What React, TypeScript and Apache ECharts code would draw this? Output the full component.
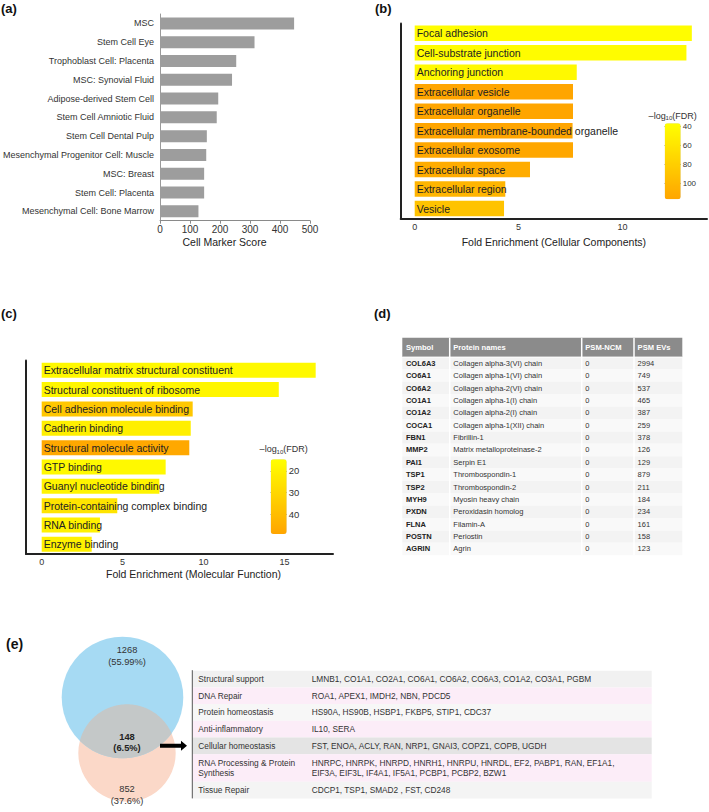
import React, { useEffect, useRef } from 'react';
import * as echarts from 'echarts';

const FONT = '"Liberation Sans", Arial, Helvetica, sans-serif';

// ---------- (a) Cell marker scores ----------
const aCats = [
  'MSC',
  'Stem Cell Eye',
  'Trophoblast Cell: Placenta',
  'MSC: Synovial Fluid',
  'Adipose-derived Stem Cell',
  'Stem Cell Amniotic Fluid',
  'Stem Cell Dental Pulp',
  'Mesenchymal Progenitor Cell: Muscle',
  'MSC: Breast',
  'Stem Cell: Placenta',
  'Mesenchymal Cell: Bone Marrow',
];
const aScores = [447, 315, 254, 240, 194, 189, 156, 154, 147, 147, 128];

// ---------- (b) Cellular components ----------
const bCats = [
  'Focal adhesion',
  'Cell-substrate junction',
  'Anchoring junction',
  'Extracellular vesicle',
  'Extracellular organelle',
  'Extracellular membrane-bounded organelle',
  'Extracellular exosome',
  'Extracellular space',
  'Extracellular region',
  'Vesicle',
];
const bFold = [13.34, 13.08, 7.8, 7.62, 7.62, 7.6, 7.62, 5.55, 4.36, 4.3];
const bLogFdr = [38, 39, 42, 116, 116, 116, 115, 110, 102, 90];
const bTicks = [0, 5, 10];
const bLegendTicks = [40, 60, 80, 100];

// ---------- (c) Molecular function ----------
const cCats = [
  'Extracellular matrix structural constituent',
  'Structural constituent of ribosome',
  'Cell adhesion molecule binding',
  'Cadherin binding',
  'Structural molecule activity',
  'GTP binding',
  'Guanyl nucleotide binding',
  'Protein-containing complex binding',
  'RNA binding',
  'Enzyme binding',
];
const cFold = [16.93, 14.65, 9.33, 9.21, 9.12, 7.66, 7.27, 4.67, 3.6, 3.09];
const cLogFdr = [17, 18, 36, 21, 48, 17, 19, 25, 20, 20];
const cTicks = [0, 5, 10, 15];
const cLegendTicks = [20, 30, 40];

// ---------- (d) table ----------
const dHeaders = ['Symbol', 'Protein names', 'PSM-NCM', 'PSM EVs'];
const dSymbols = ['COL6A3', 'CO6A1', 'CO6A2', 'CO1A1', 'CO1A2', 'COCA1', 'FBN1', 'MMP2', 'PAI1', 'TSP1', 'TSP2', 'MYH9', 'PXDN', 'FLNA', 'POSTN', 'AGRIN'];
const dNames = [
  'Collagen alpha-3(VI) chain',
  'Collagen alpha-1(VI) chain',
  'Collagen alpha-2(VI) chain',
  'Collagen alpha-1(I) chain',
  'Collagen alpha-2(I) chain',
  'Collagen alpha-1(XII) chain',
  'Fibrillin-1',
  'Matrix metalloproteinase-2',
  'Serpin E1',
  'Thrombospondin-1',
  'Thrombospondin-2',
  'Myosin heavy chain',
  'Peroxidasin homolog',
  'Filamin-A',
  'Periostin',
  'Agrin',
];
const dNcm = [0, 0, 0, 0, 0, 0, 0, 0, 0, 0, 0, 0, 0, 0, 0, 0];
const dEvs = [2994, 749, 537, 465, 387, 259, 378, 126, 129, 879, 211, 184, 234, 161, 158, 123];

// ---------- (e) venn + table ----------
const vennCounts = [1268, 148, 852];
const vennPcts = ['55.99%', '6.5%', '37.6%'];
const eCats = [
  'Structural support',
  'DNA Repair',
  'Protein homeostasis',
  'Anti-inflammatory',
  'Cellular homeostasis',
  'RNA Processing & Protein\nSynthesis',
  'Tissue Repair',
];
const eGenes = [
  'LMNB1, CO1A1, CO2A1, CO6A1, CO6A2, CO6A3, CO1A2, CO3A1, PGBM',
  'ROA1, APEX1, IMDH2, NBN, PDCD5',
  'HS90A, HS90B, HSBP1, FKBP5, STIP1, CDC37',
  'IL10, SERA',
  'FST, ENOA, ACLY, RAN, NRP1, GNAI3, COPZ1, COPB, UGDH',
  'HNRPC, HNRPK, HNRPD, HNRH1, HNRPU, HNRDL, EF2, PABP1, RAN, EF1A1,\nEIF3A, EIF3L, IF4A1, IF5A1, PCBP1, PCBP2, BZW1',
  'CDCP1, TSP1, SMAD2 , FST, CD248',
];
const eRowColors = ['#f1f1f1', '#fcedf8', '#f7f7f7', '#fcedf8', '#e4e4e4', '#fcedf8', '#f4f4f4'];

// ---------- layout ----------
const GA = { left: 158.7, top: 14, width: 151.3, height: 206.7 };
const GB = { left: 400.7, top: 23.5, width: 306.3, height: 194.8 };
const GC = { left: 26, top: 360.6, width: 307, height: 193.4 };
const CBB = { left: 664.7, top: 123.3, width: 16, height: 76, min: 36.4, max: 116.4 };
const CBC = { left: 270.7, top: 459.3, width: 16, height: 74.7, min: 14.7, max: 49.2 };
const YELLOW_ORANGE = ['#FFFF00', '#FFA500'];

function txt(x: number, y: number, text: string, o: any = {}) {
  const style: any = {
    text,
    fill: o.fill || '#333333',
    fontSize: o.fontSize || 9,
    fontWeight: o.fontWeight || 'normal',
    fontFamily: FONT,
    align: o.align || 'left',
    verticalAlign: 'middle',
  };
  if (o.lineHeight) style.lineHeight = o.lineHeight;
  if (o.rich) style.rich = o.rich;
  return { type: 'text', x, y, silent: true, style };
}

function buildGraphics() {
  const g: any[] = [];
  // panel labels
  g.push(txt(1, 8, '(a)', { fontSize: 13, fontWeight: 'bold', fill: '#111' }));
  g.push(txt(375, 8, '(b)', { fontSize: 13, fontWeight: 'bold', fill: '#111' }));
  g.push(txt(1, 313.5, '(c)', { fontSize: 13, fontWeight: 'bold', fill: '#111' }));
  g.push(txt(374, 313.5, '(d)', { fontSize: 13, fontWeight: 'bold', fill: '#111' }));
  g.push(txt(6, 644, '(e)', { fontSize: 14, fontWeight: 'bold', fill: '#111' }));

  // colorbar titles
  const rich = { s: { fontSize: 6, fontFamily: FONT, fill: '#333', padding: [5, 0, 0, 0] }, n: { fontSize: 9, fontFamily: FONT, fill: '#333' } };
  g.push(txt(CBB.left + CBB.width / 2, CBB.top - 7.5, '{n|–log}{s|10}{n|(FDR)}', { align: 'center', rich }));
  g.push(txt(CBC.left + CBC.width / 2 + 5, CBC.top - 10, '{n|–log}{s|10}{n|(FDR)}', { align: 'center', rich }));

  // ---- table (d)
  const tL = 402.3, tR = 682.3, hTop = 337.7, hBot = 357.1, rowH = 12.38;
  const colX = [402.3, 449.7, 581.7, 634];
  const pad = 3.6;
  const tBot = hBot + rowH * dSymbols.length;
  g.push({ type: 'rect', silent: true, shape: { x: tL, y: hTop, width: tR - tL, height: hBot - hTop }, style: { fill: '#8b8b8b' } });
  dHeaders.forEach((h, i) => g.push(txt(colX[i] + pad, (hTop + hBot) / 2, h, { fill: '#ffffff', fontWeight: 'bold', fontSize: 7.6 })));
  dSymbols.forEach((s, r) => {
    const y0 = hBot + r * rowH;
    g.push({ type: 'rect', silent: true, shape: { x: tL, y: y0, width: tR - tL, height: rowH }, style: { fill: r % 2 === 0 ? '#f3f3f3' : '#f9f9f9' } });
    const cy = y0 + rowH / 2;
    g.push(txt(colX[0] + pad, cy, s, { fontWeight: 'bold', fontSize: 7.5, fill: '#222222' }));
    g.push(txt(colX[1] + pad, cy, dNames[r], { fontSize: 7.5, fill: '#333333' }));
    g.push(txt(colX[2] + pad, cy, String(dNcm[r]), { fontSize: 7.5, fill: '#333333' }));
    g.push(txt(colX[3] + pad, cy, String(dEvs[r]), { fontSize: 7.5, fill: '#333333' }));
  });
  colX.slice(1).forEach((x) =>
    g.push({ type: 'line', silent: true, shape: { x1: x, y1: hTop, x2: x, y2: tBot }, style: { stroke: '#ffffff', lineWidth: 1.5 } })
  );
  g.push({ type: 'line', silent: true, shape: { x1: tL, y1: hBot, x2: tR, y2: hBot }, style: { stroke: '#ffffff', lineWidth: 1 } });

  // ---- venn (e)
  const A = { x: 122.5, y: 697.5, r: 60.8 };
  const B = { x: 127, y: 753, r: 48.7 };
  g.push({ type: 'circle', silent: true, shape: { cx: B.x, cy: B.y, r: B.r }, style: { fill: '#fbd8c8' } });
  g.push({ type: 'circle', silent: true, shape: { cx: A.x, cy: A.y, r: A.r }, style: { fill: '#a6daf3' } });
  const pts: number[][] = [];
  const N = 720;
  for (let i = 0; i < N; i++) {
    const t = (i / N) * Math.PI * 2;
    const ax = A.x + A.r * Math.cos(t), ay = A.y + A.r * Math.sin(t);
    if ((ax - B.x) ** 2 + (ay - B.y) ** 2 <= B.r * B.r) pts.push([ax, ay]);
    const bx = B.x + B.r * Math.cos(t), by = B.y + B.r * Math.sin(t);
    if ((bx - A.x) ** 2 + (by - A.y) ** 2 <= A.r * A.r) pts.push([bx, by]);
  }
  const mx = pts.reduce((s, p) => s + p[0], 0) / pts.length;
  const my = pts.reduce((s, p) => s + p[1], 0) / pts.length;
  pts.sort((p, q) => Math.atan2(p[1] - my, p[0] - mx) - Math.atan2(q[1] - my, q[0] - mx));
  g.push({ type: 'polygon', silent: true, shape: { points: pts }, style: { fill: '#c4c8c8' } });
  const vx = 127;
  g.push(txt(vx, 650, String(vennCounts[0]), { align: 'center', fontSize: 9.3 }));
  g.push(txt(vx, 661.5, '(' + vennPcts[0] + ')', { align: 'center', fontSize: 9.3 }));
  g.push(txt(vx, 736.7, String(vennCounts[1]), { align: 'center', fontSize: 9.3, fontWeight: 'bold', fill: '#222222' }));
  g.push(txt(vx, 748.3, '(' + vennPcts[1] + ')', { align: 'center', fontSize: 9.3, fontWeight: 'bold', fill: '#222222' }));
  g.push(txt(vx, 789.3, String(vennCounts[2]), { align: 'center', fontSize: 9.3 }));
  g.push(txt(vx, 800.5, '(' + vennPcts[2] + ')', { align: 'center', fontSize: 9.3 }));

  // arrow
  const ax0 = 160, ax1 = 187, ay = 745.7, ah = 181;
  g.push({
    type: 'polygon',
    silent: true,
    shape: { points: [[ax0, ay - 2], [ah, ay - 2], [ah, ay - 5], [ax1, ay], [ah, ay + 5], [ah, ay + 2], [ax0, ay + 2]] },
    style: { fill: '#000' },
  });

  // ---- table (e)
  const eL = 192.3, eR = 651.7, eTop = 670.7, single = 16.7, dbl = 27.5, lh = 10.7;
  const c1 = 198.3, c2 = 311.7;
  let y = eTop;
  eCats.forEach((cat, i) => {
    const lines = Math.max(cat.split('\n').length, eGenes[i].split('\n').length);
    const h = lines > 1 ? dbl : single;
    g.push({ type: 'rect', silent: true, shape: { x: eL, y, width: eR - eL, height: h }, style: { fill: eRowColors[i] } });
    g.push(txt(c1, y + h / 2, cat, { fontSize: 8.3, fill: '#333333', lineHeight: lh }));
    g.push(txt(c2, y + h / 2, eGenes[i], { fontSize: 8.3, fill: '#333333', lineHeight: lh }));
    y += h;
  });
  g.push({ type: 'line', silent: true, shape: { x1: eL, y1: eTop - 0.5, x2: eL, y2: y }, style: { stroke: '#555', lineWidth: 1 } });
  return g;
}

function buildOption(): any {
  const axisName = (name: string, gap: number, padding: number[]) => ({
    name,
    nameLocation: 'middle',
    nameGap: gap,
    nameTextStyle: { fontSize: 10.5, color: '#222', fontFamily: FONT, padding },
  });
  const blackLine = { show: true, onZero: false, lineStyle: { color: '#222', width: 2 } };
  return {
    animation: false,
    backgroundColor: '#ffffff',
    textStyle: { fontFamily: FONT },
    grid: [
      { ...GA },
      { ...GB },
      { ...GC },
      { left: CBB.left, top: CBB.top, width: CBB.width, height: CBB.height },
      { left: CBC.left, top: CBC.top, width: CBC.width, height: CBC.height },
    ],
    xAxis: [
      {
        gridIndex: 0,
        type: 'value',
        min: 0,
        max: 500,
        interval: 100,
        axisLine: { show: true, onZero: false, lineStyle: { color: '#8a8a8a' } },
        axisTick: { show: true, length: 3, lineStyle: { color: '#8a8a8a' } },
        axisLabel: { fontSize: 10, color: '#333', margin: 4, fontFamily: FONT },
        splitLine: { show: false },
        ...axisName('Cell Marker Score', 15.5, [0, 21, 0, 0]),
      },
      {
        gridIndex: 1,
        type: 'value',
        min: -0.674,
        max: 14.07,
        axisLine: blackLine,
        axisTick: { show: false },
        axisLabel: { customValues: bTicks, fontSize: 9, color: '#333', margin: 4, fontFamily: FONT },
        splitLine: { show: false },
        ...axisName('Fold Enrichment (Cellular Components)', 18, [0, 0, 0, 0]),
      },
      {
        gridIndex: 2,
        type: 'value',
        min: -0.97,
        max: 18.0,
        axisLine: blackLine,
        axisTick: { show: false },
        axisLabel: { customValues: cTicks, fontSize: 9, color: '#333', margin: 3, fontFamily: FONT },
        splitLine: { show: false },
        ...axisName('Fold Enrichment (Molecular Function)', 14, [0, 0, 0, 28]),
      },
      { gridIndex: 3, type: 'value', show: false },
      { gridIndex: 4, type: 'value', show: false },
    ],
    yAxis: [
      {
        gridIndex: 0,
        type: 'category',
        data: aCats,
        inverse: true,
        axisLine: { show: true, onZero: false, lineStyle: { color: '#9a9a9a' } },
        axisTick: { show: false },
        axisLabel: { fontSize: 9, color: '#333', margin: 6, fontFamily: FONT },
      },
      { gridIndex: 1, type: 'category', data: bCats, inverse: true, axisLine: blackLine, axisTick: { show: false }, axisLabel: { show: false } },
      { gridIndex: 2, type: 'category', data: cCats, inverse: true, axisLine: blackLine, axisTick: { show: false }, axisLabel: { show: false } },
      {
        gridIndex: 3, type: 'value', min: CBB.min, max: CBB.max, inverse: true, position: 'left',
        axisLine: { show: false }, splitLine: { show: false },
        axisTick: { show: true, inside: true, length: 4, customValues: bLegendTicks, lineStyle: { color: '#555' } },
        axisLabel: { show: false },
      },
      {
        gridIndex: 3, type: 'value', min: CBB.min, max: CBB.max, inverse: true, position: 'right',
        axisLine: { show: false }, splitLine: { show: false },
        axisTick: { show: true, inside: true, length: 4, customValues: bLegendTicks, lineStyle: { color: '#555' } },
        axisLabel: { show: true, customValues: bLegendTicks, fontSize: 8, color: '#333', margin: 2, fontFamily: FONT },
      },
      {
        gridIndex: 4, type: 'value', min: CBC.min, max: CBC.max, inverse: true, position: 'left',
        axisLine: { show: false }, splitLine: { show: false },
        axisTick: { show: true, inside: true, length: 4, customValues: cLegendTicks, lineStyle: { color: '#555' } },
        axisLabel: { show: false },
      },
      {
        gridIndex: 4, type: 'value', min: CBC.min, max: CBC.max, inverse: true, position: 'right',
        axisLine: { show: false }, splitLine: { show: false },
        axisTick: { show: true, inside: true, length: 4, customValues: cLegendTicks, lineStyle: { color: '#555' } },
        axisLabel: { show: true, customValues: cLegendTicks, fontSize: 9.5, color: '#333', margin: 2, fontFamily: FONT },
      },
    ],
    visualMap: [
      {
        type: 'continuous', seriesIndex: 1, dimension: 2, min: CBB.min, max: CBB.max, inverse: true,
        calculable: false, hoverLink: false, left: CBB.left, top: CBB.top, itemWidth: CBB.width, itemHeight: CBB.height,
        padding: 0, inRange: { color: YELLOW_ORANGE },
      },
      {
        type: 'continuous', seriesIndex: 2, dimension: 2, min: CBC.min, max: CBC.max, inverse: true,
        calculable: false, hoverLink: false, left: CBC.left, top: CBC.top, itemWidth: CBC.width, itemHeight: CBC.height,
        padding: 0, inRange: { color: YELLOW_ORANGE },
      },
    ],
    series: [
      {
        type: 'bar', xAxisIndex: 0, yAxisIndex: 0, data: aScores, barWidth: 12, silent: true,
        itemStyle: { color: '#9d9d9d' },
      },
      {
        type: 'bar', xAxisIndex: 1, yAxisIndex: 1, silent: true,
        data: bCats.map((c, i) => [bFold[i], c, bLogFdr[i]]),
        encode: { x: 0, y: 1 }, barWidth: 15.5,
        label: {
          show: true, position: 'insideLeft', distance: 2, color: '#222', fontSize: 10.5, fontFamily: FONT,
          textBorderWidth: 0, formatter: (p: any) => bCats[p.dataIndex],
        },
      },
      {
        type: 'bar', xAxisIndex: 2, yAxisIndex: 2, silent: true,
        data: cCats.map((c, i) => [cFold[i], c, cLogFdr[i]]),
        encode: { x: 0, y: 1 }, barWidth: 15,
        label: {
          show: true, position: 'insideLeft', distance: 2, color: '#222', fontSize: 10.5, fontFamily: FONT,
          textBorderWidth: 0, formatter: (p: any) => cCats[p.dataIndex],
        },
      },
    ],
    graphic: buildGraphics(),
  };
}

export default function App() {
  const ref = useRef<HTMLDivElement>(null);
  useEffect(() => {
    if (!ref.current) return;
    const chart = echarts.init(ref.current, undefined, { renderer: 'svg' });
    chart.setOption(buildOption());
    return () => chart.dispose();
  }, []);
  return <div ref={ref} style={{ position: 'absolute', left: 0, top: 0, width: 709, height: 812 }} />;
}
